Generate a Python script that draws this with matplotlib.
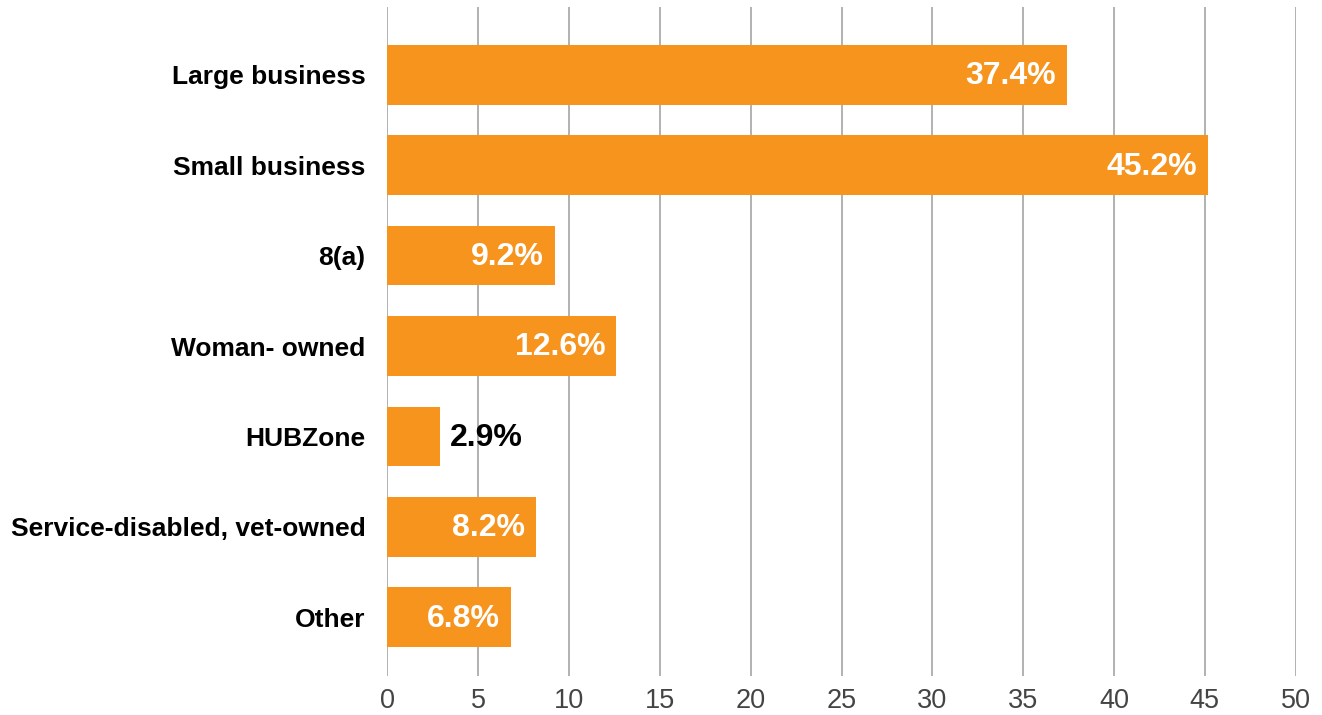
import matplotlib.pyplot as plt

categories = ['Large business', 'Small business', '8(a)', 'Woman- owned',
              'HUBZone', 'Service-disabled, vet-owned', 'Other']
shares = [37.4, 45.2, 9.2, 12.6, 2.9, 8.2, 6.8]
xticks = [0, 5, 10, 15, 20, 25, 30, 35, 40, 45, 50]

plt.rcParams['font.family'] = ['Liberation Sans', 'DejaVu Sans']

fig = plt.figure(figsize=(13.22, 7.15), dpi=100)
ax = fig.add_axes([387.5 / 1322, 1 - 676 / 715, (1295.5 - 387.5) / 1322, 669 / 715])

ypos = list(range(len(categories)))
ax.barh(ypos, shares, height=0.66, color='#F7941E', zorder=2)

# value labels: white inside the bar, black outside for short bars
for y, v in zip(ypos, shares):
    txt = f'{v:.1f}%'
    if v < 5:
        ax.annotate(txt, (v, y), xytext=(7, -1), textcoords='offset points',
                    ha='left', va='center', fontsize=23, fontweight='bold', color='black')
    else:
        ax.annotate(txt, (v, y), xytext=(-8, -1), textcoords='offset points',
                    ha='right', va='center', fontsize=23, fontweight='bold', color='white')

ax.set_xlim(0, 50)
ax.set_ylim(6.65, -0.75)
ax.set_xticks(xticks)
ax.set_yticks(ypos)
ax.set_yticklabels(categories, fontsize=19, fontweight='bold')
ax.tick_params(axis='y', length=0, pad=16)
ax.tick_params(axis='x', length=0, pad=9, labelsize=19.5, labelcolor='#444444')
ax.grid(axis='x', color='#ABABAB', linewidth=1.3, zorder=0)
for s in ax.spines.values():
    s.set_visible(False)

fig.savefig('out.png', dpi=100)
